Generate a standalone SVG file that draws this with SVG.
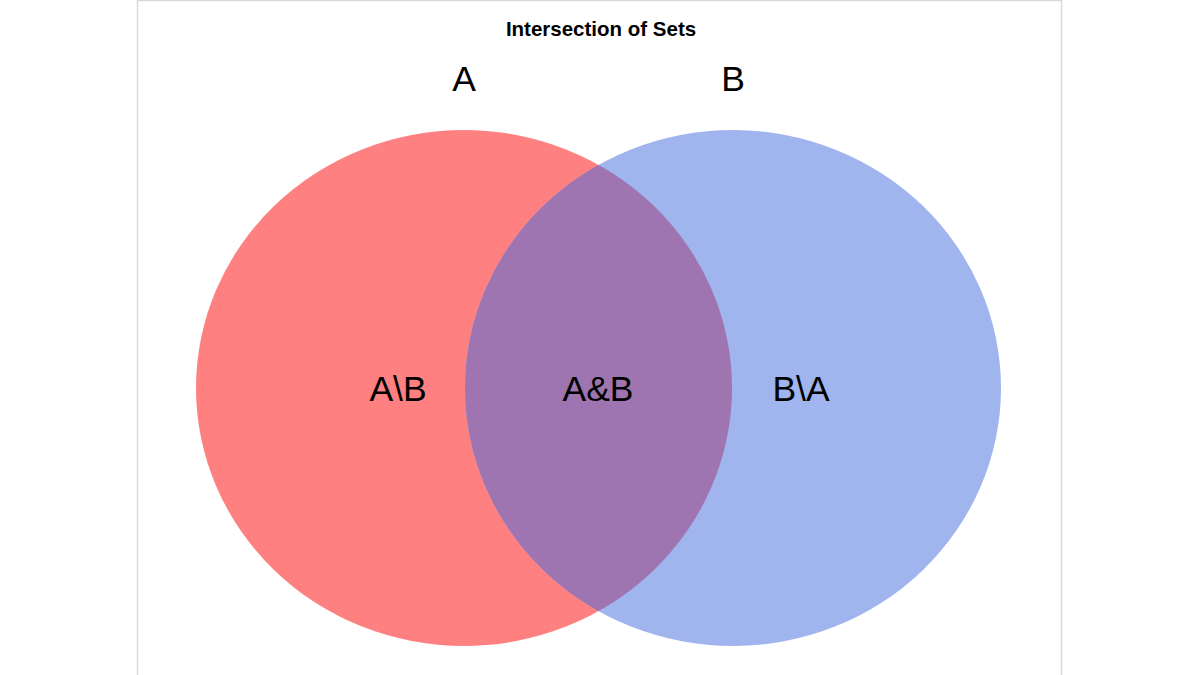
<svg xmlns="http://www.w3.org/2000/svg" width="1200" height="675" viewBox="0 0 1200 675">
<style>
.t{font-family:"Liberation Sans",Arial,sans-serif;fill:#000;text-anchor:middle}
.title{font-size:20.5px;font-weight:bold}
.lbl{font-size:35.5px}
</style>
<defs>
<clipPath id="clipA"><ellipse cx="464" cy="388" rx="268" ry="258"/></clipPath>
</defs>
<rect x="0" y="0" width="1200" height="675" fill="#fff"/>
<rect x="137.5" y="0.5" width="924" height="690" fill="#fff" stroke="#d9d9d9" stroke-width="1.5"/>
<g id="setA"><ellipse cx="464" cy="388" rx="268" ry="258" fill="#ff8080"/></g>
<g id="setB"><ellipse cx="733" cy="388" rx="268" ry="258" fill="#a0b4ee"/></g>
<g id="intersection"><ellipse cx="733" cy="388" rx="268" ry="258" fill="#9f75b1" clip-path="url(#clipA)"/></g>
<text class="t title" x="601" y="36">Intersection of Sets</text>
<text class="t lbl" x="464" y="91">A</text>
<text class="t lbl" x="733" y="91">B</text>
<text class="t lbl" x="398" y="401">A\B</text>
<text class="t lbl" x="598" y="401">A&amp;B</text>
<text class="t lbl" x="801" y="401">B\A</text>
</svg>
